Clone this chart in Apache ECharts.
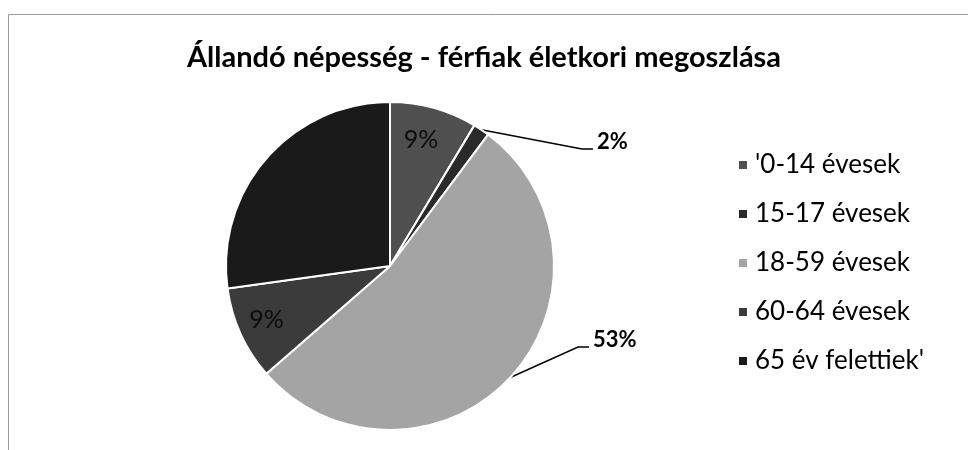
<!DOCTYPE html>
<html>
<head>
<meta charset="utf-8">
<script src="https://cdn.jsdelivr.net/npm/echarts@6/dist/echarts.min.js"></script>
<style>
  html, body { margin: 0; padding: 0; background: #fff; }
  #chart { width: 968px; height: 450px; }
</style>
</head>
<body>
<div id="chart"></div>
<script>
// adatok (százalék)
var categories = ["'0-14 évesek", '15-17 évesek', '18-59 évesek', '60-64 évesek', "65 év felettiek'"];
var shares = [8.6, 1.6, 53.4, 9.2, 27.2];
var sliceColors = ['#4f4f4f', '#2a2a2a', '#a4a4a4', '#3b3b3b', '#1a1a1a'];
var labelModes = ['inside', 'outside', 'outside', 'inside', 'none'];

var cx = 390, cy = 266, radius = 164;
// hova kerüljenek a külső feliratok (bal szél, függőleges közép)
var outsideSpots = { 1: [597, 142], 2: [593, 340] };

var font = 'Lato, Carlito, "Noto Sans", sans-serif';
var total = shares.reduce(function (a, b) { return a + b; }, 0);

function midAngle(i) {
  var before = 0;
  for (var k = 0; k < i; k++) before += shares[k];
  return (before + shares[i] / 2) / total * Math.PI * 2;
}

var pieData = categories.map(function (name, i) {
  var mode = labelModes[i];
  var item = { name: name, value: shares[i], itemStyle: { color: sliceColors[i] } };
  if (mode === 'outside') {
    item.label = { show: true, position: 'outside', fontWeight: 'bold', color: '#000', fontSize: 22 };
    item.labelLine = { show: true };
  } else if (mode === 'inside') {
    item.label = { show: true, position: 'inside', fontWeight: 'normal', color: '#0d0d0d', fontSize: 25 };
    item.labelLine = { show: false };
  } else {
    item.label = { show: false };
    item.labelLine = { show: false };
  }
  return item;
});

var myChart = echarts.init(document.getElementById('chart'));

var option = {
  backgroundColor: '#fff',
  animation: false,
  title: {
    text: 'Állandó népesség - férfiak életkori megoszlása',
    left: 'center',
    top: 38,
    textStyle: { fontFamily: font, fontWeight: 'bold', fontSize: 29, color: '#000' }
  },
  legend: {
    orient: 'vertical',
    left: 732,
    top: 147,
    icon: 'rect',
    itemWidth: 10,
    itemHeight: 10,
    itemGap: 23,
    data: categories,
    textStyle: { fontFamily: font, fontSize: 26, lineHeight: 22, color: '#000', padding: [0, 0, 0, 2] }
  },
  graphic: [{
    type: 'rect',
    silent: true,
    shape: { x: 8.5, y: 14.5, width: 1000, height: 500 },
    style: { fill: 'none', stroke: '#9a9a9a', lineWidth: 1 }
  }],
  series: [{
    type: 'pie',
    center: [cx, cy],
    radius: radius,
    startAngle: 90,
    clockwise: true,
    avoidLabelOverlap: false,
    itemStyle: { borderColor: '#fff', borderWidth: 2 },
    label: {
      fontFamily: font,
      formatter: function (p) { return Math.round(p.percent) + '%'; }
    },
    labelLine: { lineStyle: { color: '#000', width: 1.5 }, length: 10, length2: 10 },
    labelLayout: function (params) {
      var i = params.dataIndex;
      if (labelModes[i] === 'outside') {
        var spot = outsideSpots[i];
        var a = midAngle(i);
        var p0 = [cx + radius * Math.sin(a), cy - radius * Math.cos(a)];
        return {
          x: spot[0], y: spot[1], align: 'left', verticalAlign: 'middle',
          labelLinePoints: [p0, [spot[0] - 15, spot[1] + 7], [spot[0] - 4, spot[1] + 7]]
        };
      }
      if (labelModes[i] === 'inside') {
        var a2 = midAngle(i);
        var rr = radius * 0.8;
        return {
          x: cx + rr * Math.sin(a2) - 4, y: cy - rr * Math.cos(a2),
          align: 'center', verticalAlign: 'middle'
        };
      }
      return {};
    },
    data: pieData
  }]
};

myChart.setOption(option);
</script>
</body>
</html>
